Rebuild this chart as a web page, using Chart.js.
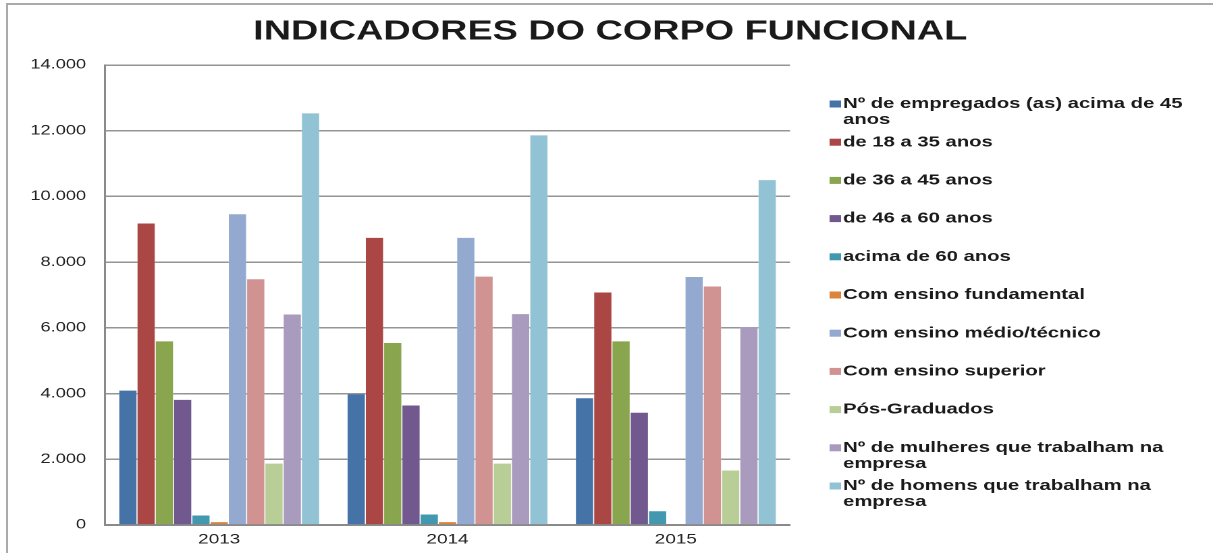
<!DOCTYPE html>
<html>
<head>
<meta charset="utf-8">
<script src="https://cdn.jsdelivr.net/npm/chart.js@4/dist/chart.umd.min.js"></script>
<style>
  html, body { margin: 0; padding: 0; background: #fff; overflow: hidden; }
  #wrap { width: 1213px; height: 553px; overflow: hidden; }
  /* the original picture is stretched sideways, so draw narrow and stretch */
  #chart { display: block; width: 899px; height: 553px; transform: scaleX(1.35); transform-origin: 0 0; }
</style>
</head>
<body>
<div id="wrap"><canvas id="chart" width="899" height="553"></canvas></div>
<script>
const chartTitle = 'INDICADORES DO CORPO FUNCIONAL';
const years = ['2013', '2014', '2015'];

const seriesNames = [
  'Nº de empregados (as) acima de 45 anos',
  'de 18 a 35 anos',
  'de 36 a 45 anos',
  'de 46 a 60 anos',
  'acima de 60 anos',
  'Com ensino fundamental',
  'Com ensino médio/técnico',
  'Com ensino superior',
  'Pós-Graduados',
  'Nº de mulheres que trabalham na empresa',
  'Nº de homens que trabalham na empresa'
];

const acima45 = [4100, 3990, 3870];
const de18a35 = [9190, 8750, 7090];
const de36a45 = [5600, 5550, 5600];
const de46a60 = [3820, 3650, 3430];
const acima60 = [300, 330, 430];
const fundamental = [100, 100, 40];
const medioTecnico = [9470, 8750, 7560];
const superior = [7490, 7570, 7270];
const posGraduados = [1880, 1880, 1670];
const mulheres = [6420, 6430, 6030];
const homens = [12540, 11870, 10510];

const yTicks = [0, 2000, 4000, 6000, 8000, 10000, 12000, 14000];

const seriesValues = [acima45, de18a35, de36a45, de46a60, acima60, fundamental,
  medioTecnico, superior, posGraduados, mulheres, homens];

const colors = ['#4572a7', '#aa4643', '#89a54e', '#71588f', '#4198af', '#db843d',
  '#93a9cf', '#d19392', '#b9cd96', '#a99bbd', '#92c3d5'];

const fmt = (v) => String(v).replace(/\B(?=(\d{3})+(?!\d))/g, '.');

Chart.defaults.font.family = "'Liberation Sans', Arial, Helvetica, sans-serif";
Chart.defaults.color = '#222';

// frame (top and left edges) and the title
const framePlugin = {
  id: 'frame',
  beforeDraw(chart) {
    const c = chart.ctx;
    c.save();
    c.fillStyle = '#ffffff';
    c.fillRect(0, 0, chart.width, chart.height);
    c.fillStyle = '#aaaaaa';
    c.fillRect(4.5, 3, chart.width, 2);
    c.fillRect(4.5, 3, 1.5, chart.height);
    c.fillStyle = '#1a1a1a';
    c.font = 'bold 28px ' + Chart.defaults.font.family;
    c.textAlign = 'center';
    c.textBaseline = 'middle';
    c.fillText(chartTitle, 452, 32);
    c.restore();
  }
};

// legend on the right, with wrapped labels
const sideLegend = {
  id: 'sideLegend',
  afterDraw(chart) {
    const c = chart.ctx;
    const x0 = 614.5, textX = 624.5, y0 = 104, step = 38.2, lineH = 16, maxW = 258;
    c.save();
    c.font = 'bold 15px ' + Chart.defaults.font.family;
    c.textBaseline = 'middle';
    c.textAlign = 'left';
    chart.data.datasets.forEach((ds, i) => {
      const y = y0 + i * step;
      c.fillStyle = ds.backgroundColor;
      c.fillRect(x0, y - 3.5, 8.5, 7);
      const words = ds.label.split(' ');
      const lines = [];
      let cur = '';
      words.forEach(w => {
        const test = cur ? cur + ' ' + w : w;
        if (c.measureText(test).width > maxW && cur) {
          lines.push(cur);
          cur = w;
        } else {
          cur = test;
        }
      });
      lines.push(cur);
      c.fillStyle = '#1a1a1a';
      lines.forEach((ln, k) => c.fillText(ln, textX, y + k * lineH));
    });
    c.restore();
  }
};

new Chart(document.getElementById('chart'), {
  type: 'bar',
  data: {
    labels: years,
    datasets: seriesNames.map((name, i) => ({
      label: name,
      data: seriesValues[i],
      backgroundColor: colors[i],
      borderColor: 'rgba(255,255,255,0.3)',
      borderWidth: 0.4,
      categoryPercentage: 0.88,
      barPercentage: 1
    }))
  },
  options: {
    responsive: false,
    animation: false,
    devicePixelRatio: 2,
    layout: { padding: { left: 0, right: 313.8, top: 65, bottom: 0 } },
    plugins: {
      legend: { display: false },
      tooltip: { enabled: false },
      title: { display: false }
    },
    scales: {
      x: {
        afterFit(axis) { axis.height = 28; },
        grid: { display: false, drawTicks: false },
        border: { display: true, color: '#8a8a8a', width: 2 },
        ticks: { padding: 6, color: '#222', font: { size: 14 } }
      },
      y: {
        min: 0,
        max: 14000,
        afterFit(axis) { axis.width = 77.8; },
        afterBuildTicks(axis) { axis.ticks = yTicks.map(v => ({ value: v })); },
        grid: { color: '#959595', lineWidth: 1.5, drawTicks: false },
        border: { display: true, color: '#8a8a8a', width: 1.5 },
        ticks: { padding: 14, color: '#222', font: { size: 13.5 }, callback: (v) => fmt(v) }
      }
    }
  },
  plugins: [framePlugin, sideLegend]
});
</script>
</body>
</html>
